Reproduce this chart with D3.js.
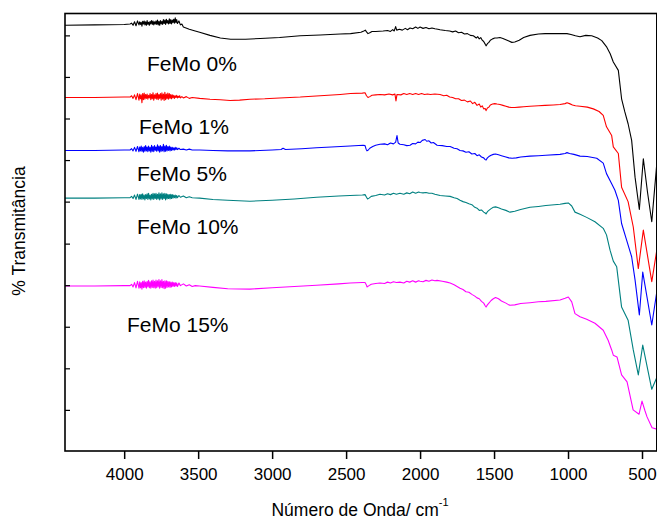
<!DOCTYPE html>
<html><head><meta charset="utf-8">
<script src="https://cdn.jsdelivr.net/npm/d3@7"></script>
<style>body{margin:0;background:#fff} text{font-family:"Liberation Sans",Arial,sans-serif;fill:#000}</style>
</head><body><svg id="c" width="657" height="519"></svg>
<script>
const xTicks=[4000,3500,3000,2500,2000,1500,1000,500];
const yTicks=[9.4,18.9,28.4,37.9,47.4,57.0,66.5,76.0,85.5,95.0];
const seriesNames=["FeMo 0%","FeMo 1%","FeMo 5%","FeMo 10%","FeMo 15%"];
const seriesColors=["#000000","#ff0000","#0000ff","#008080","#ff00ff"];

const femo0=[[4400,97.3],[4200,97.4],[4000,97.5],[3960,97.6],[3950,97.8],[3940,97.3],[3930,98.1],[3920,97.2],[3910,98.3],
[3900,97.4],[3895,98.1],[3890,97.5],[3885,98.0],[3880,97.1],[3875,98.2],[3870,97.6],[3865,98.3],[3860,97.4],[3855,98.1],[3850,97.3],[3845,98.4],[3840,97.5],[3835,98.0],[3830,97.3],[3825,98.2],[3820,97.6],[3815,98.4],[3810,97.5],[3805,98.3],[3800,97.4],[3795,98.1],[3790,97.6],[3785,98.3],[3780,97.5],[3775,98.5],[3770,97.4],[3765,98.2],[3760,97.3],[3755,98.4],[3750,97.6],[3745,98.2],[3740,97.5],[3735,98.6],[3730,97.7],[3725,98.5],[3720,97.5],[3715,98.7],[3710,97.8],[3705,98.4],[3700,97.6],[3695,98.8],[3690,97.7],[3685,98.6],[3680,97.6],[3675,98.5],[3670,97.9],[3665,98.7],[3660,97.8],[3655,99.0],[3650,97.9],[3645,98.6],[3640,97.7],
[3630,98.3],[3620,97.4],[3610,97.6],[3600,96.9],[3560,96.4],[3520,96.0],[3490,95.7],[3420,95.0],[3350,94.4],[3280,94.1],[3180,94.1],[3080,94.3],[2950,94.5],[2810,94.9],[2675,95.1],[2540,95.3],[2470,95.4],[2400,95.7],[2380,96.0],[2370,96.2],[2362,95.8],[2352,95.4],[2340,95.6],[2325,95.9],[2300,95.9],[2250,96.0],[2220,96.1],[2200,95.9],[2185,96.3],[2175,96.0],[2165,97.0],[2158,96.2],[2140,96.4],[2120,96.2],[2100,96.6],[2085,96.3],[2068,96.7],[2050,96.5],[2030,96.9],[2015,96.6],[2000,96.9],[1980,96.6],[1960,96.8],[1940,96.5],[1920,96.7],[1900,96.5],[1880,96.4],[1865,96.3],[1830,96.1],[1800,96.0],[1780,95.8],[1760,96.0],[1740,95.6],[1720,95.7],[1700,95.3],[1680,95.4],[1660,95.0],[1640,94.9],[1620,94.4],[1610,94.7],[1600,94.2],[1590,94.5],[1580,93.9],[1570,93.6],[1560,93.0],[1554,92.6],[1545,93.1],[1535,93.4],[1525,93.9],[1510,94.2],[1495,94.4],[1480,94.4],[1460,94.5],[1440,94.3],[1420,94.0],[1400,93.7],[1380,93.4],[1360,93.5],[1330,93.9],[1300,94.5],[1257,95.0],[1200,95.3],[1155,95.4],[1100,95.4],[1054,95.4],[1007,95.4],[980,95.2],[950,94.9],[919,94.7],[880,95.0],[840,94.9],[800,94.4],[772,93.8],[738,92.3],[715,90.8],[694,88.9],[660,87.0],[638,80.5],[616,77.5],[594,74.8],[570,71.0],[547,62.6],[518,55.2],[491,66.8],[463,59.2],[434,52.4],[400,65.7]];

const femo1=[[4400,80.8],[4200,80.8],[4000,80.9],[3960,80.9],[3950,81.2],[3940,80.6],[3930,81.4],[3920,80.3],[3910,81.7],
[3900,80.2],[3895,81.6],[3890,80.5],[3885,81.4],[3880,79.6],[3875,81.7],[3870,80.3],[3865,81.8],[3860,80.4],[3855,81.5],[3850,80.6],[3845,81.6],[3840,80.4],[3835,81.3],[3830,80.7],[3825,81.7],[3820,80.3],[3815,81.5],[3810,80.5],[3805,81.9],[3800,80.2],[3795,81.4],[3790,80.6],[3785,81.7],[3780,80.4],[3775,81.8],[3770,80.3],[3765,81.5],[3760,80.6],[3755,81.7],[3750,80.2],[3745,81.9],[3740,80.4],[3735,81.6],[3730,80.1],[3725,82.0],[3720,80.3],[3715,81.6],[3710,80.5],[3705,81.8],[3700,80.4],[3695,81.7],[3690,80.6],[3685,81.5],[3680,80.5],[3675,81.4],[3670,80.7],[3665,81.3],[3660,80.6],[3655,81.2],[3650,80.8],[3645,81.3],[3640,80.7],[3635,81.1],[3630,80.8],[3625,81.2],[3620,80.7],
[3610,81.0],[3600,80.7],[3580,81.0],[3560,80.6],[3540,80.8],[3490,80.6],[3420,80.4],[3350,80.3],[3284,80.1],[3220,80.2],[3150,80.4],[3050,80.5],[2950,80.7],[2810,80.9],[2675,81.2],[2540,81.5],[2470,81.7],[2390,81.8],[2372,81.9],[2362,81.2],[2352,80.8],[2340,81.0],[2325,81.3],[2300,81.4],[2270,81.5],[2240,81.4],[2210,81.6],[2185,81.4],[2170,81.6],[2163,80.0],[2156,81.5],[2130,81.4],[2110,81.7],[2090,81.5],[2070,81.7],[2050,81.5],[2030,81.7],[2010,81.5],[1990,81.7],[1970,81.5],[1950,81.6],[1930,81.5],[1900,81.6],[1865,81.5],[1840,81.2],[1820,81.3],[1800,80.9],[1780,80.8],[1760,80.5],[1740,80.5],[1720,80.1],[1700,80.2],[1680,79.8],[1660,80.0],[1645,79.4],[1630,79.7],[1615,79.0],[1600,79.3],[1590,78.6],[1580,78.9],[1570,78.2],[1560,78.3],[1554,77.8],[1545,78.4],[1535,78.6],[1525,79.1],[1510,79.3],[1495,79.4],[1480,79.3],[1460,79.2],[1440,79.0],[1420,78.8],[1400,78.6],[1385,78.5],[1360,78.5],[1330,78.6],[1300,78.7],[1257,78.8],[1200,78.9],[1155,79.0],[1100,79.1],[1054,79.2],[1020,79.4],[1007,79.6],[990,79.4],[970,79.1],[950,78.9],[919,78.8],[870,78.6],[829,78.2],[790,77.6],[762,76.7],[740,74.1],[705,72.1],[694,69.5],[660,68.0],[638,60.3],[594,57.0],[559,51.2],[525,41.7],[491,50.5],[434,38.7],[400,45.9]];

const femo5=[[4400,68.7],[4200,68.7],[4000,68.8],[3960,68.8],[3950,69.1],[3940,68.6],[3930,69.4],[3920,68.5],[3910,69.6],
[3900,68.4],[3895,69.5],[3890,68.6],[3885,69.7],[3880,68.5],[3875,69.4],[3870,68.3],[3865,69.6],[3860,68.5],[3855,69.8],[3850,68.6],[3845,69.5],[3840,68.4],[3835,69.7],[3830,68.6],[3825,69.4],[3820,68.3],[3815,69.9],[3810,68.5],[3805,69.6],[3800,68.4],[3795,69.8],[3790,68.7],[3785,69.5],[3780,68.5],[3775,70.0],[3770,68.6],[3765,69.7],[3760,68.3],[3755,69.8],[3750,68.5],[3745,69.6],[3740,68.6],[3735,70.1],[3730,68.4],[3725,69.7],[3720,68.5],[3715,69.9],[3710,68.6],[3705,69.6],[3700,68.7],[3695,69.7],[3690,68.6],[3685,69.5],[3680,68.7],[3675,69.4],[3670,68.8],[3665,69.3],[3660,68.8],[3655,69.4],[3650,68.9],[3645,69.3],[3640,68.9],
[3630,69.2],[3620,68.9],[3600,69.0],[3580,68.8],[3560,69.0],[3540,68.8],[3490,68.8],[3400,68.7],[3300,68.6],[3150,68.6],[3000,68.8],[2940,68.9],[2926,69.2],[2910,68.9],[2800,69.1],[2700,69.3],[2600,69.5],[2473,69.7],[2385,69.9],[2372,69.8],[2365,69.0],[2359,68.6],[2350,68.8],[2340,69.2],[2320,69.6],[2300,69.9],[2271,70.1],[2240,70.2],[2220,70.0],[2200,70.4],[2180,70.2],[2165,70.6],[2156,72.1],[2148,70.4],[2136,70.1],[2110,70.0],[2090,69.8],[2068,69.9],[2050,70.3],[2030,70.2],[2015,70.6],[2000,70.5],[1985,71.0],[1966,71.2],[1955,70.8],[1940,70.9],[1925,70.4],[1910,70.5],[1885,69.9],[1850,69.8],[1820,69.6],[1797,69.6],[1770,69.2],[1750,69.1],[1730,68.7],[1710,68.6],[1690,68.3],[1670,68.4],[1650,67.9],[1630,68.0],[1615,67.5],[1600,67.7],[1585,67.2],[1570,67.0],[1560,66.6],[1554,66.5],[1545,67.0],[1535,67.3],[1520,67.6],[1505,67.8],[1490,67.9],[1470,67.7],[1450,67.5],[1420,67.2],[1400,67.0],[1378,66.9],[1350,67.0],[1320,67.2],[1257,67.4],[1200,67.5],[1150,67.6],[1054,67.8],[1020,68.0],[1007,68.2],[990,68.0],[960,67.8],[919,67.4],[870,67.3],[806,66.9],[762,65.8],[740,63.4],[705,61.1],[683,59.6],[660,57.3],[638,52.0],[604,48.2],[570,44.4],[547,39.1],[518,31.1],[495,40.9],[434,28.8],[400,36.4]];

const femo10=[[4400,57.8],[4200,57.8],[4000,57.9],[3960,57.9],[3950,58.2],[3940,57.7],[3930,58.5],[3920,57.5],[3910,58.7],
[3900,57.5],[3895,58.6],[3890,57.6],[3885,58.7],[3880,57.5],[3875,58.8],[3870,57.6],[3865,58.5],[3860,57.4],[3855,58.6],[3850,57.7],[3845,58.8],[3840,57.5],[3835,58.9],[3830,57.6],[3825,58.5],[3820,57.4],[3815,58.7],[3810,57.6],[3805,58.9],[3800,57.5],[3795,58.8],[3790,57.7],[3785,58.9],[3780,57.5],[3775,58.7],[3770,57.6],[3765,59.0],[3760,57.4],[3755,58.8],[3750,57.6],[3745,59.0],[3740,57.5],[3735,58.8],[3730,57.7],[3725,58.9],[3720,57.4],[3715,58.8],[3710,57.6],[3705,58.7],[3700,57.7],[3695,58.6],[3690,57.6],[3685,58.7],[3680,57.7],[3675,58.6],[3670,57.8],[3665,58.5],[3660,57.9],[3655,58.5],[3650,57.8],[3645,58.4],[3640,57.9],
[3630,58.4],[3620,58.0],[3600,58.3],[3580,57.9],[3560,58.1],[3540,57.9],[3490,57.8],[3400,57.5],[3300,57.3],[3150,57.1],[3000,57.3],[2850,57.6],[2700,58.0],[2550,58.3],[2473,58.4],[2390,58.5],[2372,58.6],[2362,58.0],[2355,57.6],[2345,57.8],[2330,58.2],[2300,58.4],[2271,58.7],[2240,58.5],[2220,58.8],[2200,58.6],[2180,58.9],[2160,58.7],[2136,58.9],[2110,58.7],[2090,59.0],[2070,58.8],[2050,59.2],[2030,58.9],[2010,59.2],[2000,59.1],[1980,59.0],[1960,59.1],[1940,58.9],[1920,58.9],[1900,58.7],[1865,58.4],[1830,58.3],[1797,58.2],[1770,57.9],[1750,57.7],[1730,57.3],[1710,57.0],[1690,56.8],[1670,56.5],[1650,56.3],[1630,55.7],[1615,55.5],[1600,55.0],[1585,55.1],[1570,54.6],[1560,54.4],[1554,54.2],[1545,54.7],[1535,55.0],[1520,55.4],[1505,55.7],[1490,55.8],[1470,55.6],[1450,55.3],[1420,55.0],[1400,54.7],[1392,54.6],[1360,54.8],[1320,55.2],[1257,55.7],[1200,55.9],[1150,56.1],[1054,56.4],[1020,56.6],[998,56.7],[975,56.0],[953,54.6],[919,54.1],[874,53.4],[818,52.4],[762,50.9],[740,49.4],[716,45.9],[694,43.4],[671,42.1],[638,32.9],[594,29.9],[559,23.1],[525,17.4],[495,24.2],[434,14.1],[400,16.8]];

const femo15=[[4400,37.7],[4200,37.7],[4000,37.8],[3960,37.8],[3950,38.1],[3940,37.5],[3930,38.5],[3920,37.3],[3910,38.8],
[3900,37.2],[3895,38.7],[3890,37.3],[3885,38.5],[3880,37.0],[3875,38.8],[3870,37.3],[3865,38.9],[3860,37.4],[3855,38.6],[3850,37.2],[3845,38.8],[3840,37.5],[3835,39.0],[3830,37.3],[3825,38.7],[3820,37.2],[3815,38.9],[3810,37.4],[3805,39.1],[3800,37.3],[3795,38.8],[3790,37.2],[3785,39.1],[3780,37.3],[3775,38.9],[3770,37.5],[3765,39.2],[3760,37.2],[3755,38.9],[3750,37.4],[3745,39.2],[3740,37.3],[3735,38.8],[3730,37.1],[3725,38.9],[3720,37.2],[3715,38.9],[3710,37.4],[3705,38.8],[3700,37.5],[3695,38.7],[3690,37.4],[3685,38.6],[3680,37.5],[3675,38.6],[3670,37.6],[3665,38.5],[3660,37.6],[3655,38.5],[3650,37.7],[3645,38.4],[3640,37.6],
[3630,38.4],[3620,37.8],[3600,38.2],[3580,37.7],[3560,38.0],[3540,37.6],[3520,37.8],[3490,37.7],[3400,37.4],[3300,37.1],[3150,37.0],[3000,37.3],[2850,37.6],[2700,37.9],[2550,38.2],[2473,38.4],[2390,38.5],[2372,38.5],[2362,37.9],[2359,37.5],[2345,37.8],[2330,38.1],[2300,38.3],[2271,38.4],[2240,38.3],[2220,38.6],[2200,38.4],[2180,38.7],[2160,38.5],[2136,38.6],[2110,38.4],[2090,38.8],[2070,38.6],[2050,38.9],[2030,38.6],[2010,38.9],[2000,38.8],[1980,38.7],[1960,39.0],[1940,38.8],[1920,39.1],[1900,38.9],[1885,39.0],[1850,38.8],[1820,38.6],[1797,38.4],[1770,38.0],[1750,37.6],[1730,37.2],[1710,36.9],[1690,36.4],[1670,36.3],[1650,35.8],[1630,35.4],[1615,35.0],[1600,34.8],[1585,34.2],[1570,33.8],[1560,33.2],[1554,32.9],[1545,33.4],[1535,33.8],[1520,34.4],[1505,34.8],[1490,35.1],[1470,34.8],[1450,34.3],[1420,33.8],[1400,33.4],[1392,33.3],[1360,33.4],[1320,33.7],[1257,33.9],[1200,34.1],[1150,34.2],[1054,34.5],[1020,34.9],[998,35.2],[975,34.1],[953,31.4],[919,30.7],[874,30.1],[818,29.2],[762,27.6],[729,25.3],[705,23.1],[694,21.9],[669,21.5],[638,17.4],[601,15.8],[560,9.4],[520,8.4],[500,11.4],[480,9.2],[466,7.8],[432,5.3],[400,5.0]];

const allSeries=[femo0,femo1,femo5,femo10,femo15];
const labelPos=[[147,71],[139,134],[137,181],[137,234],[127,332]];

const svg=d3.select("#c");
const L=65,R=656.8,T=13.5,B=451;
const x=d3.scaleLinear().domain([4400,400]).range([L,R]);
const y=d3.scaleLinear().domain([0,100]).range([B,T]);

const line=d3.line().x(d=>x(d[0])).y(d=>y(d[1]));
const g=svg.append("g");
allSeries.forEach((s,i)=>{
  g.append("path").datum(s).attr("d",line).attr("fill","none")
   .attr("stroke",seriesColors[i]).attr("stroke-width",1.1).attr("stroke-linejoin","round");
});

const xa=svg.append("g").attr("transform",`translate(0,${B})`)
  .call(d3.axisBottom(x).tickValues(xTicks).tickSize(8).tickPadding(9).tickFormat(d3.format("d")));
xa.select(".domain").remove();
xa.selectAll("line").attr("stroke","#000").attr("stroke-width",1.5);
xa.selectAll("text").style("font-size","17px").attr("font-family","Liberation Sans, Arial, sans-serif");

const ya=svg.append("g").attr("transform",`translate(${L},0)`)
  .call(d3.axisRight(y).tickValues(yTicks).tickSize(5).tickFormat(""));
ya.select(".domain").remove();
ya.selectAll("line").attr("stroke","#000").attr("stroke-width",1.2);

svg.append("rect").attr("x",L).attr("y",T).attr("width",R-L).attr("height",B-T)
  .attr("fill","none").attr("stroke","#000").attr("stroke-width",1.6);

seriesNames.forEach((n,i)=>{
  svg.append("text").attr("x",labelPos[i][0]).attr("y",labelPos[i][1])
    .style("font-size","21px").text(n);
});

const xt=svg.append("text").attr("x",360).attr("y",516).attr("text-anchor","middle").style("font-size","17.5px");
xt.append("tspan").text("Número de Onda/ cm");
xt.append("tspan").attr("dy",-10).style("font-size","11px").text("-1");

svg.append("text").attr("transform","translate(25,231) rotate(-90)").attr("text-anchor","middle")
  .style("font-size","17.5px").text("% Transmitância");
</script></body></html>
